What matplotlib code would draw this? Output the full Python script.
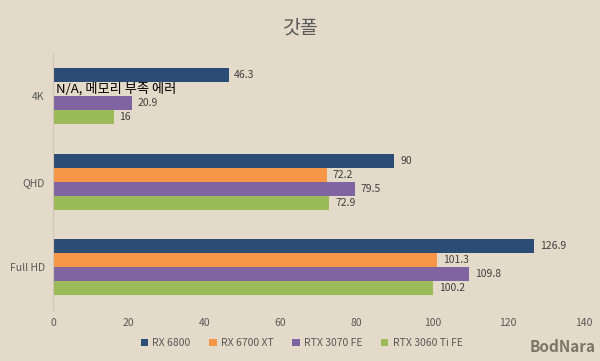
import numpy as np
import matplotlib
matplotlib.use('Agg')
import matplotlib.pyplot as plt

plt.rcParams['font.family'] = ['Noto Sans CJK KR', 'DejaVu Sans']

# data
categories = ['4K', 'QHD', 'Full HD']
series = ['RX 6800', 'RX 6700 XT', 'RTX 3070 FE', 'RTX 3060 Ti FE']
rx6800 = [46.3, 90, 126.9]
rx6700xt = [None, 72.2, 101.3]   # 4K: N/A
rtx3070 = [20.9, 79.5, 109.8]
rtx3060ti = [16, 72.9, 100.2]
colors = ['#2b4c74', '#f79646', '#8064a2', '#9bbb59']
bg = '#e3dac9'

fig = plt.figure(figsize=(6, 3.61), dpi=100, facecolor=bg)
ax = fig.add_axes([0.0883, 0.142, 0.885, 0.709])
ax.set_facecolor(bg)

y = np.arange(len(categories))
h = 0.164
for i, (name, vals, c) in enumerate(zip(series, [rx6800, rx6700xt, rtx3070, rtx3060ti], colors)):
    off = (i - 1.5) * h
    v = np.array([np.nan if x is None else x for x in vals], dtype=float)
    ax.barh(y + off, np.nan_to_num(v), height=h, color=c, label=name, linewidth=0)
    for yy, x in zip(y + off, vals):
        if x is None:
            ax.text(0.8, yy, 'N/A, 메모리 부족 에러', va='center', ha='left',
                    fontsize=9.5, color='black')
        else:
            ax.text(x + 1.5, yy, '{:g}'.format(x), va='center', ha='left',
                    fontsize=7.5, color='#404040')

ax.set_xlim(0, 140)
ax.set_ylim(2.5, -0.5)
ax.set_xticks(np.arange(0, 141, 20))
ax.set_yticks(y)
ax.set_yticklabels(categories)
ax.tick_params(axis='both', length=0, labelsize=7.5, labelcolor='#595959')
ax.tick_params(axis='x', pad=6)
ax.tick_params(axis='y', pad=6)
for s in ['top', 'right', 'bottom']:
    ax.spines[s].set_visible(False)
ax.spines['left'].set_color('#cfc6b6')
ax.spines['left'].set_linewidth(0.8)

fig.text(0.5, 0.922, '갓폴', ha='center', va='center', fontsize=14, color='#595959')

leg = fig.legend(loc='center', bbox_to_anchor=(0.503, 0.05), ncol=4, frameon=False,
                 fontsize=7.5, handlelength=0.7, handleheight=0.7, handletextpad=0.4,
                 columnspacing=1.8)
for t in leg.get_texts():
    t.set_color('#595959')

fig.text(0.992, 0.04, 'BodNara', ha='right', va='center', fontsize=11,
         fontweight='bold', color='#7d7468')

fig.savefig('out.png', dpi=100, facecolor=bg)
